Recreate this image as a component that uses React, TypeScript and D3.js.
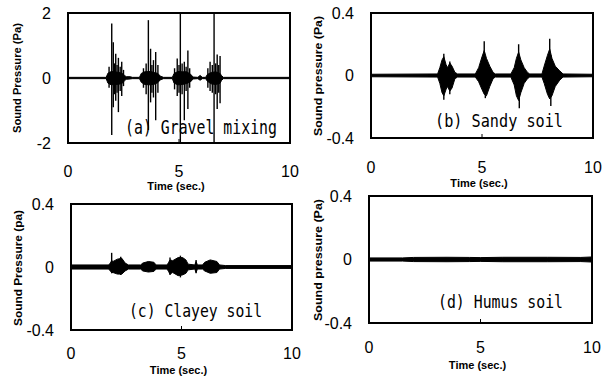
import * as d3 from "d3";

// (a) gravel mixing, Pa
const gravelEnvT = [0, 1.72, 1.8, 1.95, 2.1, 2.3, 2.45, 2.55, 2.62, 2.8, 2.9, 3.22, 3.3, 3.45, 3.7, 3.9, 4.05, 4.15, 4.3, 4.7, 4.78, 4.95, 5.15, 5.35, 5.55, 5.62, 5.85, 5.95, 6.05, 6.2, 6.28, 6.45, 6.65, 6.85, 6.92, 7.0, 10];
const gravelEnvUp = [0.02, 0.02, 0.15, 0.2, 0.19, 0.17, 0.14, 0.08, 0.04, 0.04, 0.02, 0.02, 0.14, 0.19, 0.2, 0.17, 0.14, 0.06, 0.02, 0.02, 0.14, 0.2, 0.19, 0.19, 0.1, 0.03, 0.02, 0.08, 0.02, 0.02, 0.11, 0.17, 0.19, 0.14, 0.07, 0.02, 0.02];
const gravelEnvLow = [-0.02, -0.02, -0.16, -0.21, -0.2, -0.19, -0.16, -0.08, -0.04, -0.03, -0.02, -0.02, -0.13, -0.2, -0.21, -0.19, -0.14, -0.06, -0.02, -0.02, -0.16, -0.21, -0.2, -0.17, -0.1, -0.03, -0.02, -0.07, -0.02, -0.02, -0.1, -0.18, -0.2, -0.16, -0.07, -0.02, -0.02];
const gravelSpikeT = [1.85, 1.97, 2.04, 2.1, 2.15, 2.21, 2.27, 2.35, 2.42, 2.5, 3.4, 3.52, 3.62, 3.72, 3.78, 3.85, 3.95, 4.05, 4.8, 4.92, 5.0, 5.06, 5.14, 5.24, 5.32, 5.4, 5.48, 6.3, 6.4, 6.5, 6.58, 6.65, 6.72, 6.79, 6.85];
const gravelSpikeUp = [0.35, 1.68, 1.1, 0.45, 0.75, 0.4, 0.62, 0.35, 0.5, 0.25, 0.3, 0.45, 1.78, 0.9, 0.4, 0.55, 0.8, 0.4, 0.3, 0.6, 0.4, 2.0, 0.45, 0.5, 0.35, 0.85, 0.3, 0.3, 0.5, 0.4, 2.0, 0.45, 0.72, 0.4, 0.68];
const gravelSpikeLow = [-0.3, -1.75, -0.9, -0.5, -0.7, -0.45, -1.05, -0.4, -0.55, -0.25, -0.3, -0.5, -1.6, -0.75, -0.45, -0.6, -1.3, -0.45, -0.35, -0.55, -0.45, -2.0, -0.5, -1.3, -0.4, -0.95, -0.3, -0.3, -0.4, -0.45, -2.0, -0.5, -0.95, -0.45, -0.78];

// (b) sandy soil, Pa
const sandyEnvT = [0, 3.0, 3.1, 3.2, 3.28, 3.38, 3.45, 3.55, 3.65, 3.78, 3.9, 4.7, 4.85, 5.0, 5.1, 5.2, 5.35, 5.5, 5.6, 6.3, 6.45, 6.55, 6.65, 6.75, 6.9, 7.05, 7.15, 7.7, 7.8, 7.95, 8.05, 8.15, 8.3, 8.5, 8.65, 10];
const sandyEnvUp = [0.008, 0.01, 0.05, 0.1, 0.12, 0.07, 0.05, 0.08, 0.06, 0.02, 0.01, 0.01, 0.05, 0.12, 0.16, 0.11, 0.06, 0.02, 0.01, 0.01, 0.05, 0.11, 0.15, 0.1, 0.05, 0.02, 0.01, 0.01, 0.06, 0.13, 0.17, 0.11, 0.06, 0.03, 0.01, 0.008];
const sandyEnvLow = [-0.008, -0.01, -0.05, -0.11, -0.13, -0.09, -0.07, -0.1, -0.08, -0.02, -0.01, -0.01, -0.04, -0.09, -0.12, -0.13, -0.07, -0.02, -0.01, -0.01, -0.06, -0.13, -0.16, -0.11, -0.05, -0.02, -0.01, -0.01, -0.05, -0.12, -0.15, -0.13, -0.07, -0.03, -0.01, -0.008];
const sandySpikeT = [3.28, 3.55, 5.1, 5.15, 6.65, 6.68, 8.05, 8.1];
const sandySpikeUp = [0.14, 0.09, 0.22, 0.12, 0.2, 0.12, 0.235, 0.13];
const sandySpikeLow = [-0.155, -0.12, -0.1, -0.145, -0.12, -0.21, -0.12, -0.195];

// (c) clayey soil, Pa
const clayEnvT = [0, 1.7, 1.78, 1.84, 1.9, 2.1, 2.3, 2.45, 2.6, 3.15, 3.25, 3.5, 3.75, 3.85, 4.35, 4.42, 4.48, 4.6, 4.85, 5.05, 5.2, 5.3, 5.6, 5.66, 5.72, 5.95, 6.05, 6.3, 6.6, 6.72, 7.0, 10];
const clayEnvUp = [0.013, 0.013, 0.025, 0.04, 0.035, 0.05, 0.055, 0.025, 0.013, 0.013, 0.025, 0.035, 0.03, 0.013, 0.013, 0.03, 0.045, 0.04, 0.06, 0.06, 0.045, 0.018, 0.013, 0.035, 0.013, 0.013, 0.03, 0.045, 0.035, 0.013, 0.009, 0.009];
const clayEnvLow = [-0.013, -0.013, -0.025, -0.035, -0.035, -0.045, -0.045, -0.025, -0.013, -0.013, -0.025, -0.032, -0.028, -0.013, -0.013, -0.03, -0.045, -0.035, -0.055, -0.05, -0.04, -0.018, -0.013, -0.035, -0.013, -0.013, -0.025, -0.04, -0.035, -0.013, -0.009, -0.009];
const claySpikeT = [1.84, 2.25, 4.48, 4.95, 5.66];
const claySpikeUp = [0.09, 0.065, 0.06, 0.072, 0.045];
const claySpikeLow = [-0.04, -0.05, -0.05, -0.066, -0.04];

// (d) humus soil, Pa
const humusEnvT = [0, 1.5, 2.0, 3.5, 4.5, 5.0, 6.0, 8.0, 9.5, 10];
const humusEnvUp = [0.01, 0.01, 0.013, 0.014, 0.013, 0.012, 0.014, 0.014, 0.013, 0.016];
const humusEnvLow = [-0.01, -0.01, -0.013, -0.014, -0.013, -0.012, -0.014, -0.014, -0.013, -0.016];

const timeTicks = [0, 5, 10];
const gravelTicks = [-2, 0, 2];
const soilTicks = [-0.4, 0, 0.4];

const SANS = "'Liberation Sans Narrow', 'Liberation Sans', Arial, sans-serif";
const MONO = "'DejaVu Sans Mono', 'Liberation Mono', monospace";

type Box = { x0: number; x1: number; y0: number; y1: number };

function Panel(p: {
  id: string;
  box: Box;
  yMax: number;
  yTicks: number[];
  envT: number[];
  envUp: number[];
  envLow: number[];
  spikeT?: number[];
  spikeUp?: number[];
  spikeLow?: number[];
  yTitle: string;
  yTitleX: number;
  yTitleY: number;
  yTitleLen: number;
  label: string;
  labelX: number;
  labelY: number;
  labelW: number;
  labelSize: number;
  tickLabelY: number;
  xTitleY: number;
}) {
  const { box } = p;
  const x = d3.scaleLinear().domain([0, 10]).range([box.x0, box.x1]);
  const y = d3.scaleLinear().domain([-p.yMax, p.yMax]).range([box.y1, box.y0]);

  const pts = p.envT.map((t, i) => ({ t, up: p.envUp[i], low: p.envLow[i] }));
  const area = d3
    .area<{ t: number; up: number; low: number }>()
    .x((d) => x(d.t))
    .y0((d) => y(d.low))
    .y1((d) => y(d.up));

  const spikes = (p.spikeT || []).map((t, i) => ({
    t,
    up: p.spikeUp![i],
    low: p.spikeLow![i],
  }));

  const fmt = (v: number) => (v === 0 ? "0" : p.yMax >= 1 ? String(v) : v.toFixed(1));

  return (
    <g>
      <defs>
        <clipPath id={`clip-${p.id}`}>
          <rect x={box.x0} y={box.y0} width={box.x1 - box.x0} height={box.y1 - box.y0} />
        </clipPath>
      </defs>
      <g clipPath={`url(#clip-${p.id})`}>
        <path d={area(pts) || ""} fill="#000" stroke="#000" strokeWidth={1} />
        {spikes.map((s, i) => (
          <line key={i} x1={x(s.t)} x2={x(s.t)} y1={y(s.up)} y2={y(s.low)} stroke="#000" strokeWidth={1.4} />
        ))}
      </g>
      <line x1={x(5)} x2={x(5)} y1={box.y1} y2={box.y1 - 4} stroke="#000" strokeWidth={1} />
      <rect
        x={box.x0}
        y={box.y0}
        width={box.x1 - box.x0}
        height={box.y1 - box.y0}
        fill="none"
        stroke="#000"
        strokeWidth={2}
      />
      {p.yTicks.map((v) => (
        <text
          key={v}
          x={box.x0 - 17}
          y={y(v)}
          dy="0.36em"
          textAnchor="end"
          fontFamily={SANS}
          fontSize={16}
        >
          {fmt(v)}
        </text>
      ))}
      {timeTicks.map((v) => (
        <text key={v} x={x(v)} y={p.tickLabelY} textAnchor="middle" fontFamily={SANS} fontSize={16}>
          {v}
        </text>
      ))}
      <text
        x={(box.x0 + box.x1) / 2 - 3}
        y={p.xTitleY}
        textAnchor="middle"
        fontFamily={SANS}
        fontSize={11}
        fontWeight="bold"
      >
        Time (sec.)
      </text>
      <text
        transform={`translate(${p.yTitleX},${p.yTitleY}) rotate(-90)`}
        dy="0.35em"
        textAnchor="middle"
        fontFamily={SANS}
        fontSize={11.5}
        fontWeight="bold"
        textLength={p.yTitleLen}
        lengthAdjust="spacingAndGlyphs"
      >
        {p.yTitle}
      </text>
      <text
        x={p.labelX}
        y={p.labelY}
        fontFamily={MONO}
        fontSize={p.labelSize}
        textLength={p.labelW}
        lengthAdjust="spacingAndGlyphs"
      >
        {p.label}
      </text>
    </g>
  );
}

export default function App() {
  return (
    <svg
      width={602}
      height={383}
      style={{ position: "absolute", left: 0, top: 0, background: "#fff" }}
    >
      <Panel
        id="a"
        box={{ x0: 68, x1: 290, y0: 13, y1: 143 }}
        yMax={2}
        yTicks={gravelTicks}
        envT={gravelEnvT}
        envUp={gravelEnvUp}
        envLow={gravelEnvLow}
        spikeT={gravelSpikeT}
        spikeUp={gravelSpikeUp}
        spikeLow={gravelSpikeLow}
        yTitle="Sound Pressure (Pa)"
        yTitleX={17}
        yTitleY={78}
        yTitleLen={110}
        label="(a) Gravel mixing"
        labelX={125}
        labelY={134}
        labelW={152}
        labelSize={19}
        tickLabelY={177}
        xTitleY={190}
      />
      <Panel
        id="b"
        box={{ x0: 371, x1: 593, y0: 13, y1: 138 }}
        yMax={0.4}
        yTicks={soilTicks}
        envT={sandyEnvT}
        envUp={sandyEnvUp}
        envLow={sandyEnvLow}
        spikeT={sandySpikeT}
        spikeUp={sandySpikeUp}
        spikeLow={sandySpikeLow}
        yTitle="Sound pressure (Pa)"
        yTitleX={318}
        yTitleY={76}
        yTitleLen={120}
        label="(b) Sandy soil"
        labelX={435}
        labelY={127}
        labelW={128}
        labelSize={17}
        tickLabelY={173}
        xTitleY={187}
      />
      <Panel
        id="c"
        box={{ x0: 71, x1: 292, y0: 204, y1: 330 }}
        yMax={0.4}
        yTicks={soilTicks}
        envT={clayEnvT}
        envUp={clayEnvUp}
        envLow={clayEnvLow}
        spikeT={claySpikeT}
        spikeUp={claySpikeUp}
        spikeLow={claySpikeLow}
        yTitle="Sound Pressure (pa)"
        yTitleX={18}
        yTitleY={268}
        yTitleLen={116}
        label="(c) Clayey soil"
        labelX={129}
        labelY={317}
        labelW={133}
        labelSize={18}
        tickLabelY={359}
        xTitleY={374}
      />
      <Panel
        id="d"
        box={{ x0: 369, x1: 592, y0: 196, y1: 323 }}
        yMax={0.4}
        yTicks={soilTicks}
        envT={humusEnvT}
        envUp={humusEnvUp}
        envLow={humusEnvLow}
        yTitle="Sound pressure (Pa)"
        yTitleX={318}
        yTitleY={260}
        yTitleLen={122}
        label="(d) Humus soil"
        labelX={438}
        labelY={308}
        labelW={125}
        labelSize={17}
        tickLabelY={353}
        xTitleY={369}
      />
    </svg>
  );
}
